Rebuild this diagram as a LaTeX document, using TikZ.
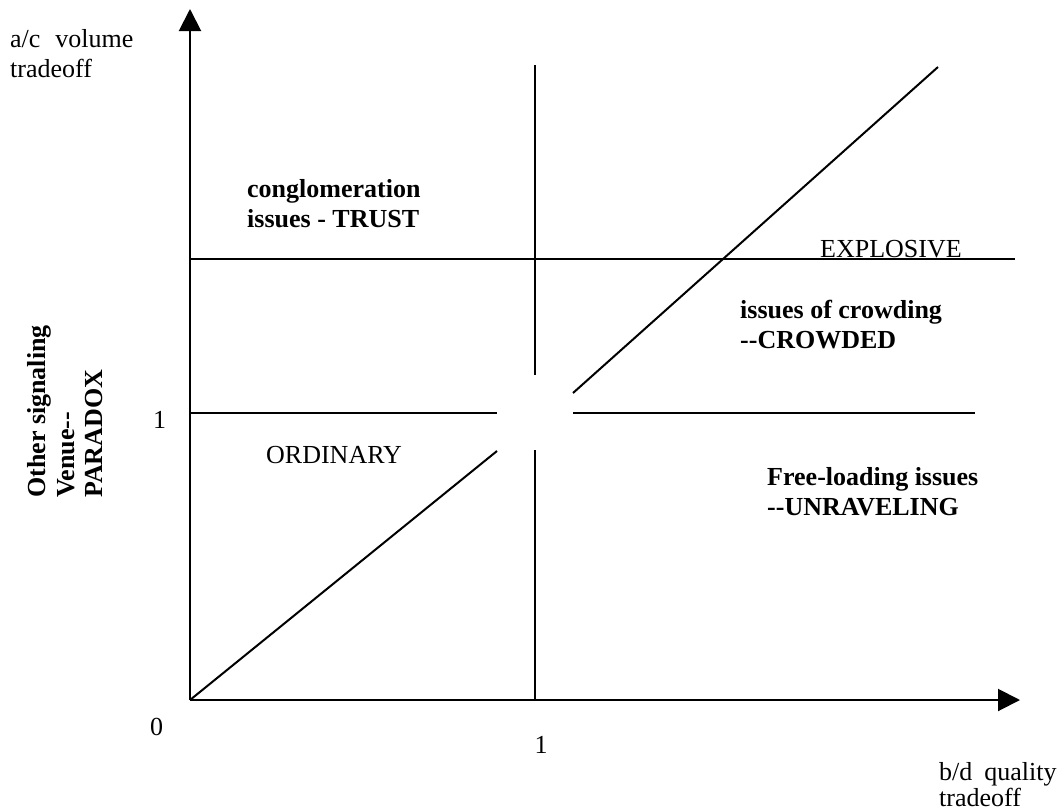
\documentclass[tikz,border=0pt]{standalone}
\usepackage{fontspec}
\setmainfont{Liberation Serif}
\usetikzlibrary{arrows.meta}
\begin{document}
\begin{tikzpicture}[x=1pt,y=-1pt,
  ln/.style={line width=2pt, line cap=butt},
  axisarrow/.style={ln, -{Triangle[length=22pt,width=22pt]}},
  lbl/.style={anchor=base west, inner sep=0pt, font=\fontsize{26}{30}\selectfont},
  blbl/.style={lbl, font=\fontsize{26}{30}\selectfont\bfseries}]
\useasboundingbox[fill=white] (0,0) rectangle (1063,811);
% reference points
\coordinate (O) at (190,700);
\coordinate (ytip) at (190,9);
\coordinate (xtip) at (1020,700);
\coordinate (hA1) at (190,259);
\coordinate (hA2) at (1015,259);
\coordinate (hB1) at (190,413);
\coordinate (hB2) at (497,413);
\coordinate (hC1) at (573,413);
\coordinate (hC2) at (975,413);
\coordinate (vA1) at (535,65);
\coordinate (vA2) at (535,375);
\coordinate (vB1) at (535,450);
\coordinate (vB2) at (535,700);
\coordinate (dA2) at (497,451);
\coordinate (dB1) at (573,393);
\coordinate (dB2) at (938,67);
% axes
\draw[axisarrow] (O) -- (ytip);
\draw[axisarrow] (O) -- (xtip);
% grid lines
\draw[ln] (hA1) -- (hA2);
\draw[ln] (hB1) -- (hB2);
\draw[ln] (hC1) -- (hC2);
\draw[ln] (vA1) -- (vA2);
\draw[ln] (vB1) -- (vB2);
% diagonals
\draw[ln] (O) -- (dA2);
\draw[ln] (dB1) -- (dB2);
% labels
\node[lbl] (yl1) at (10,47) {a/c\hspace{15pt}volume};
\node[lbl] (yl2) at (10,77) {tradeoff};
\node[lbl] (xl1) at (939,780) {b/d\hspace{12pt}quality};
\node[lbl] (xl2) at (939,806) {tradeoff};
\node[lbl] (zero) at (150,735) {0};
\node[lbl] (oneY) at (153,428) {1};
\node[lbl, anchor=base] (oneX) at (541,753) {1};
\node[blbl] (cg1) at (247,197) {conglomeration};
\node[blbl] (cg2) at (247,227) {issues - TRUST};
\node[lbl] (expl) at (820,257) {EXPLOSIVE};
\begin{scope}
\clip (700,280) rectangle (1063,350);
\node[blbl] (cr1) at (740,318) {issues of crowding};
\node[blbl] (cr2) at (740,348) {-{}-CROWDED};
\end{scope}
\node[lbl] (ord) at (266,463) {ORDINARY};
\node[blbl] (fl1) at (767,485) {Free-loading issues};
\node[blbl] (fl2) at (767,515) {-{}-UNRAVELING};
\node[blbl, rotate=90] (sg1) at (45,498) {Other signaling};
\node[blbl, rotate=90] (sg2) at (74,498) {Venue-{}-};
\node[blbl, rotate=90] (sg3) at (102,498) {PARADOX};
\end{tikzpicture}
\end{document}
